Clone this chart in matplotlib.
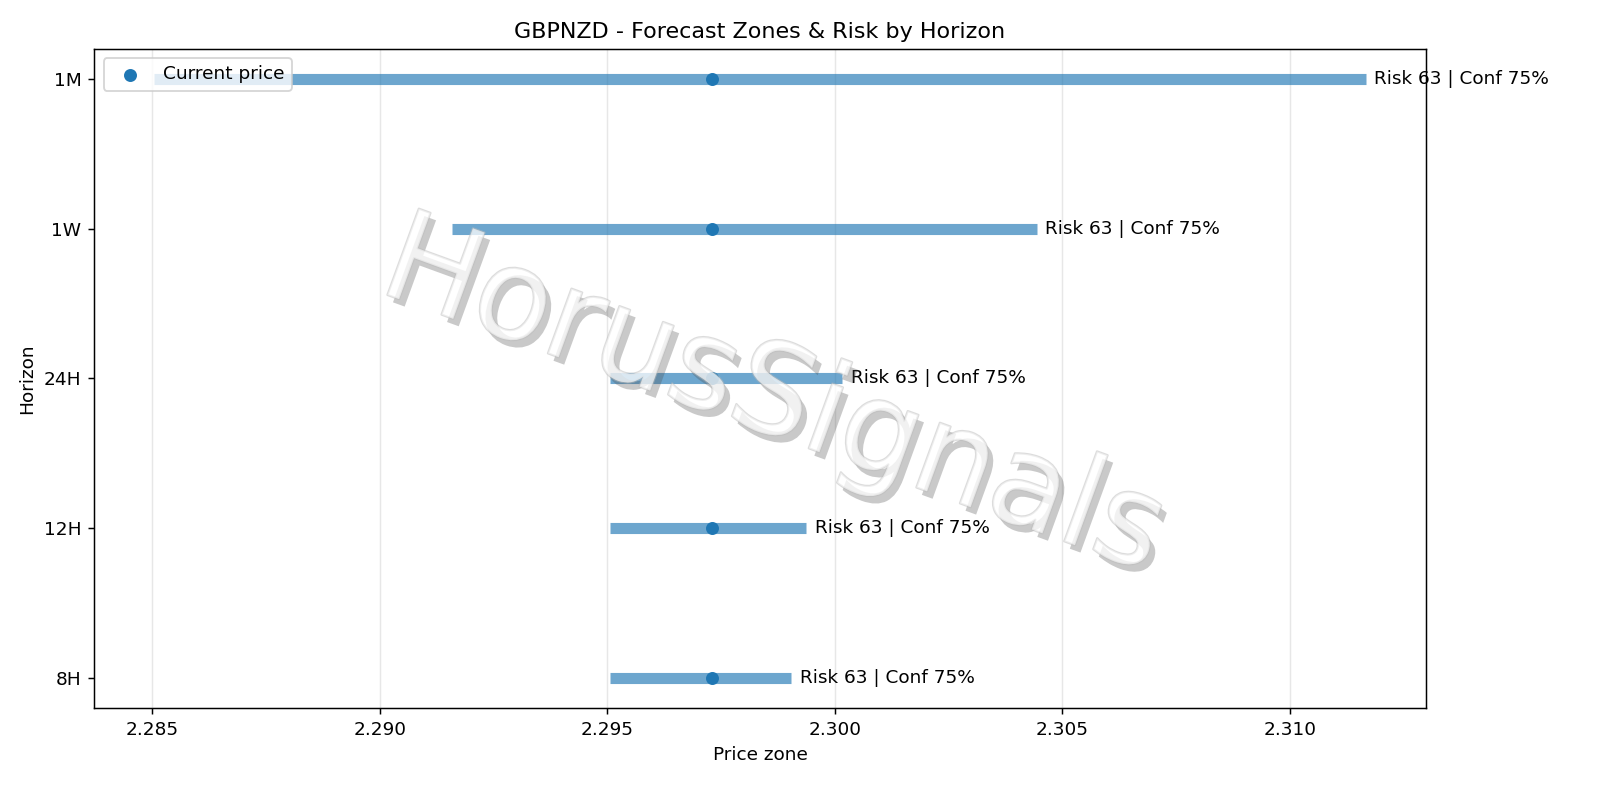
import matplotlib.pyplot as plt
import matplotlib.patheffects as pe

horizons = ["8H", "12H", "24H", "1W", "1M"]
zone_low = [2.29507, 2.29507, 2.29507, 2.29160, 2.28504]
zone_high = [2.29905, 2.29938, 2.30017, 2.30444, 2.31167]
current_price = 2.29731
risk = [63, 63, 63, 63, 63]
conf = [75, 75, 75, 75, 75]

fig, ax = plt.subplots(figsize=(12, 6), dpi=133.34)
fig.subplots_adjust(left=0.059, right=0.891, top=0.939, bottom=0.115)

ypos = list(range(len(horizons)))
for y, lo, hi, r, c in zip(ypos, zone_low, zone_high, risk, conf):
    ax.hlines(y, lo, hi, color="#1f77b4", alpha=0.65, linewidth=6)
    ax.text(hi + 0.00005, y, f" Risk {r} | Conf {c}%", va="center", fontsize=10)
ax.scatter([current_price] * len(ypos), ypos, color="#1f77b4", zorder=3, s=36,
           label="Current price")

ax.set_yticks(ypos)
ax.set_yticklabels(horizons)
ax.set_xlim(2.28373, 2.31299)
ax.set_ylim(-0.2, 4.2)
ax.grid(axis="x", alpha=0.3)
ax.set_xlabel("Price zone")
ax.set_ylabel("Horizon")
ax.set_title("GBPNZD - Forecast Zones & Risk by Horizon")
ax.legend(loc="upper left")

ax.text(0.51, 0.47, "HorusSignals", transform=ax.transAxes, fontsize=68,
        color="white", alpha=0.5, rotation=-20, ha="center", va="center",
        path_effects=[pe.SimplePatchShadow(offset=(3, -4), alpha=0.3),
                      pe.withStroke(linewidth=1.2, foreground="#bbbbbb")],
        zorder=4)

fig.savefig("out.png")
